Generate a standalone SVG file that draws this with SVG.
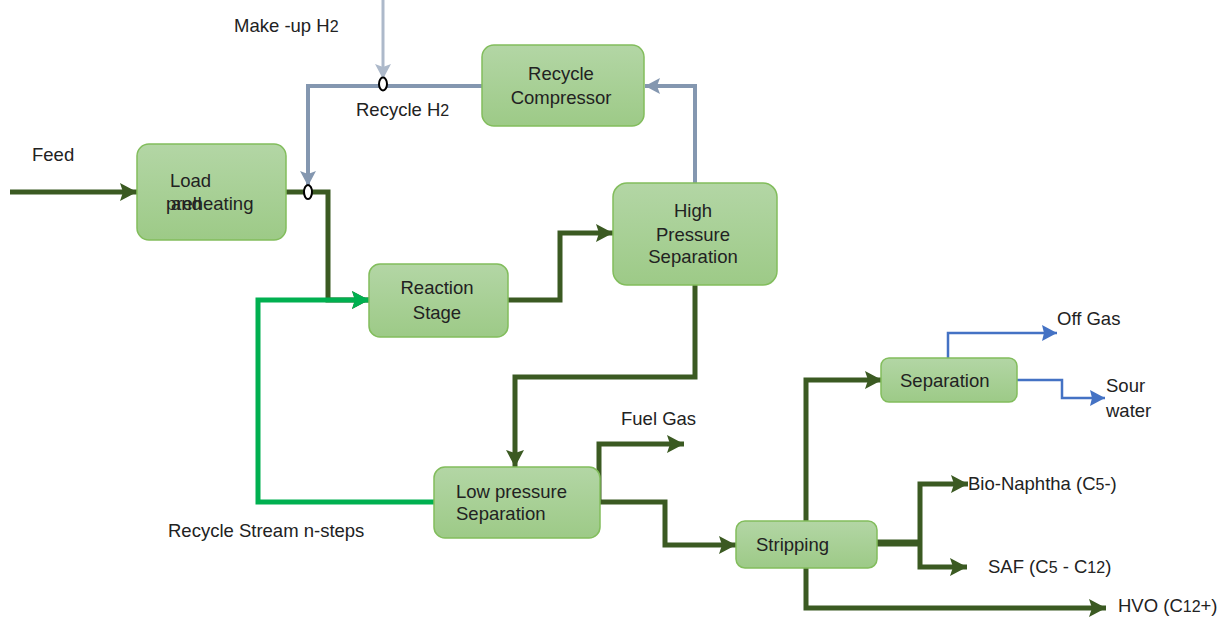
<svg xmlns="http://www.w3.org/2000/svg" width="1225" height="617" viewBox="0 0 1225 617">
<defs>
<linearGradient id="g" x1="0" y1="0" x2="0" y2="1"><stop offset="0" stop-color="#b3d6a5"/><stop offset="1" stop-color="#9dca87"/></linearGradient>
<marker id="ad" markerUnits="userSpaceOnUse" markerWidth="18" markerHeight="18" refX="17" refY="9" orient="auto"><path d="M0,0 L17,9 L0,18 L3,9 z" fill="#3b5a22"/></marker>
<marker id="ag" markerUnits="userSpaceOnUse" markerWidth="18" markerHeight="18" refX="17" refY="9" orient="auto"><path d="M0,0 L17,9 L0,18 L3,9 z" fill="#00b050"/></marker>
<marker id="ar" markerUnits="userSpaceOnUse" markerWidth="16" markerHeight="16" refX="15" refY="8" orient="auto"><path d="M0,0 L15,8 L0,16 L3,8 z" fill="#8497b0"/></marker>
<marker id="al" markerUnits="userSpaceOnUse" markerWidth="16" markerHeight="16" refX="15" refY="8" orient="auto"><path d="M0,0 L15,8 L0,16 L3,8 z" fill="#adb9ca"/></marker>
<marker id="ab" markerUnits="userSpaceOnUse" markerWidth="16" markerHeight="16" refX="15" refY="8" orient="auto"><path d="M0,0 L15,8 L0,16 L2,8 z" fill="#4472c4"/></marker>
</defs>
<style>
.box{fill:url(#g);stroke:#82bd5c;stroke-width:1.5}
text{font-family:"Liberation Sans",Arial,sans-serif;font-size:18.5px;fill:#222}
.c{text-anchor:middle}
.d{fill:none;stroke:#3b5a22;stroke-width:5}
.gr{fill:none;stroke:#00b050;stroke-width:5}
.r{fill:none;stroke:#8497b0;stroke-width:4}
.l{fill:none;stroke:#adb9ca;stroke-width:3}
.b{fill:none;stroke:#4472c4;stroke-width:2.5}
.s{font-size:16px}
</style>
<g id="connectors">
<path class="l" d="M383,0 V79" marker-end="url(#al)"/>
<path class="r" d="M482,86 H308 V186" marker-end="url(#ar)"/>
<path class="r" d="M695,183 V86 H645" marker-end="url(#ar)"/>
<path class="d" d="M10,192 H137" marker-end="url(#ad)"/>
<path class="d" d="M286,192 H328 V300 H369" marker-end="url(#ad)"/>
<path class="gr" d="M434,502 H258 V300 H369" marker-end="url(#ag)"/>
<path class="d" d="M508,300 H560 V233 H613" marker-end="url(#ad)"/>
<path class="d" d="M695,285 V377 H515 V467" marker-end="url(#ad)"/>
<path class="d" d="M599,500 V444 H684" marker-end="url(#ad)"/>
<path class="d" d="M600,502 H665 V545 H736" marker-end="url(#ad)"/>
<path class="d" d="M806,521 V380 H882" marker-end="url(#ad)"/>
<path class="d" d="M806,568 V608 H1106" marker-end="url(#ad)"/>
<path class="d" d="M877,543 H920" style="stroke-width:7"/>
<path class="d" d="M920,543 V484 H968" marker-end="url(#ad)"/>
<path class="d" d="M920,543 V567 H967" marker-end="url(#ad)"/>
<path class="b" d="M948,358 V333 H1057" marker-end="url(#ab)"/>
<path class="b" d="M1017,380 H1062 V398 H1105" marker-end="url(#ab)"/>
<ellipse cx="383" cy="84" rx="4" ry="6.5" fill="#fff" stroke="#000" stroke-width="2"/>
<ellipse cx="308" cy="192" rx="4" ry="7" fill="#fff" stroke="#000" stroke-width="2"/>
</g>
<g id="labels">
<text x="234" y="32">Make -up  H<tspan class="s">2</tspan></text>
<text x="356" y="116">Recycle  H<tspan class="s">2</tspan></text>
<text x="32" y="161">Feed</text>
<text x="168" y="537">Recycle Stream  n-steps</text>
<text x="621" y="425">Fuel  Gas</text>
<text x="1057" y="325">Off Gas</text>
<text x="1106" y="392">Sour</text>
<text x="1106" y="417">water</text>
<text x="968" y="490">Bio-Naphtha  (C<tspan class="s">5</tspan>-)</text>
<text x="988" y="573">SAF (C<tspan class="s">5</tspan> - C<tspan class="s">12</tspan>)</text>
<text x="1118" y="612">HVO  (C<tspan class="s">12</tspan>+)</text>
</g>
<g id="load">
<rect class="box" x="137" y="144" width="149" height="96" rx="12"/>
<text x="170" y="187">Load</text>
<text x="166" y="210">preheating</text>
<text x="171" y="210">and</text>
</g>
<g id="compressor">
<rect class="box" x="482" y="45" width="162" height="81" rx="12"/>
<text class="c" x="561" y="80">Recycle</text>
<text class="c" x="561" y="104">Compressor</text>
</g>
<g id="hps">
<rect class="box" x="613" y="183" width="164" height="102" rx="14"/>
<text class="c" x="693" y="217">High</text>
<text class="c" x="693" y="241">Pressure</text>
<text class="c" x="693" y="263">Separation</text>
</g>
<g id="reaction">
<rect class="box" x="369" y="264" width="139" height="73" rx="11"/>
<text class="c" x="437" y="294">Reaction</text>
<text class="c" x="437" y="319">Stage</text>
</g>
<g id="lps">
<rect class="box" x="434" y="467" width="166" height="71" rx="11"/>
<text x="456" y="498">Low pressure</text>
<text x="456" y="520">Separation</text>
</g>
<g id="stripping">
<rect class="box" x="736" y="521" width="141" height="47" rx="9"/>
<text x="756" y="551">Stripping</text>
</g>
<g id="separation">
<rect class="box" x="881" y="358" width="136" height="44" rx="8"/>
<text x="900" y="387">Separation</text>
</g>
</svg>
